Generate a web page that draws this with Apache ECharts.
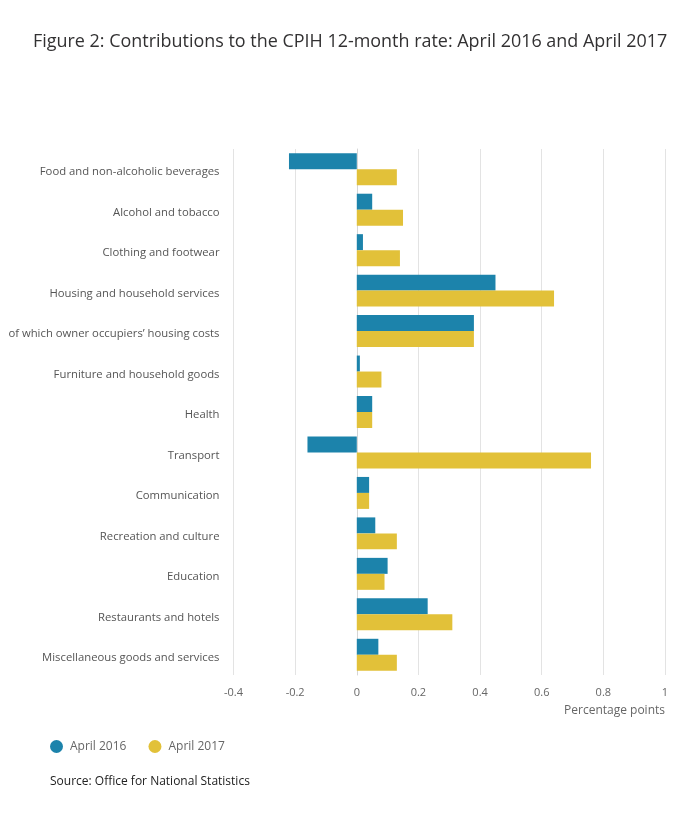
<!DOCTYPE html>
<html>
<head>
<meta charset="utf-8">
<script src="https://cdn.jsdelivr.net/npm/echarts@6/dist/echarts.min.js"></script>
<style>
html,body{margin:0;padding:0;background:#fff;}
#c{width:700px;height:825px;}
</style>
</head>
<body>
<div id="c"></div>
<script>
const categories = [
  "Food and non-alcoholic beverages",
  "Alcohol and tobacco",
  "Clothing and footwear",
  "Housing and household services",
  "of which owner occupiers\u2019 housing costs",
  "Furniture and household goods",
  "Health",
  "Transport",
  "Communication",
  "Recreation and culture",
  "Education",
  "Restaurants and hotels",
  "Miscellaneous goods and services"
];
const april2016 = [-0.22, 0.05, 0.02, 0.45, 0.38, 0.01, 0.05, -0.16, 0.04, 0.06, 0.10, 0.23, 0.07];
const april2017 = [0.13, 0.15, 0.14, 0.64, 0.38, 0.08, 0.05, 0.76, 0.04, 0.13, 0.09, 0.31, 0.13];
const seriesNames = ["April 2016", "April 2017"];

const chart = echarts.init(document.getElementById('c'));
const font = '"Open Sans", sans-serif';
chart.setOption({
  animation: false,
  textStyle: { fontFamily: font },
  title: {
    text: "Figure 2: Contributions to the CPIH 12-month rate: April 2016 and April 2017",
    left: 28, top: 28,
    textStyle: { fontFamily: font, fontSize: 17.95, fontWeight: 'normal', color: '#323132' }
  },
  legend: {
    data: seriesNames,
    left: 45, top: 735,
    icon: 'circle', itemWidth: 13, itemHeight: 13, itemGap: 22,
    textStyle: { fontFamily: font, fontSize: 12, color: '#666', padding: [0, 0, 0, 2] }
  },
  graphic: [{
    type: 'text', left: 50, top: 776,
    style: { text: 'Source: Office for National Statistics', font: '12px "Open Sans", sans-serif', fill: '#222' }
  }, {
    type: 'text', right: 35, top: 705,
    style: { text: 'Percentage points', font: '12px "Open Sans", sans-serif', fill: '#666', textAlign: 'right' }
  }],
  grid: { left: 233.5, right: 35, top: 149, bottom: 150, containLabel: false },
  xAxis: {
    type: 'value', min: -0.4, max: 1, interval: 0.2,
    axisLine: { show: false }, axisTick: { show: false },
    splitLine: { lineStyle: { color: '#e3e3e3' } },
    axisLabel: { fontFamily: font, fontSize: 11, color: '#666', margin: 12,
      formatter: v => String(Math.round(v * 10) / 10) }
  },
  yAxis: {
    type: 'category', data: categories, inverse: true,
    axisLine: { lineStyle: { color: '#d5d5d5' } },
    axisTick: { length: 9, lineStyle: { color: '#d5d5d5' } },
    axisLabel: { fontFamily: font, fontSize: 11.3, color: '#555', margin: 14,
      verticalAlign: 'top', lineHeight: 6 }
  },
  series: [{
    name: seriesNames[0], type: 'bar', data: april2016,
    itemStyle: { color: '#1c83ab' }, barGap: '0%', barCategoryGap: '21%'
  }, {
    name: seriesNames[1], type: 'bar', data: april2017,
    itemStyle: { color: '#e2c139' }, barGap: '0%', barCategoryGap: '21%'
  }]
});
</script>
</body>
</html>
